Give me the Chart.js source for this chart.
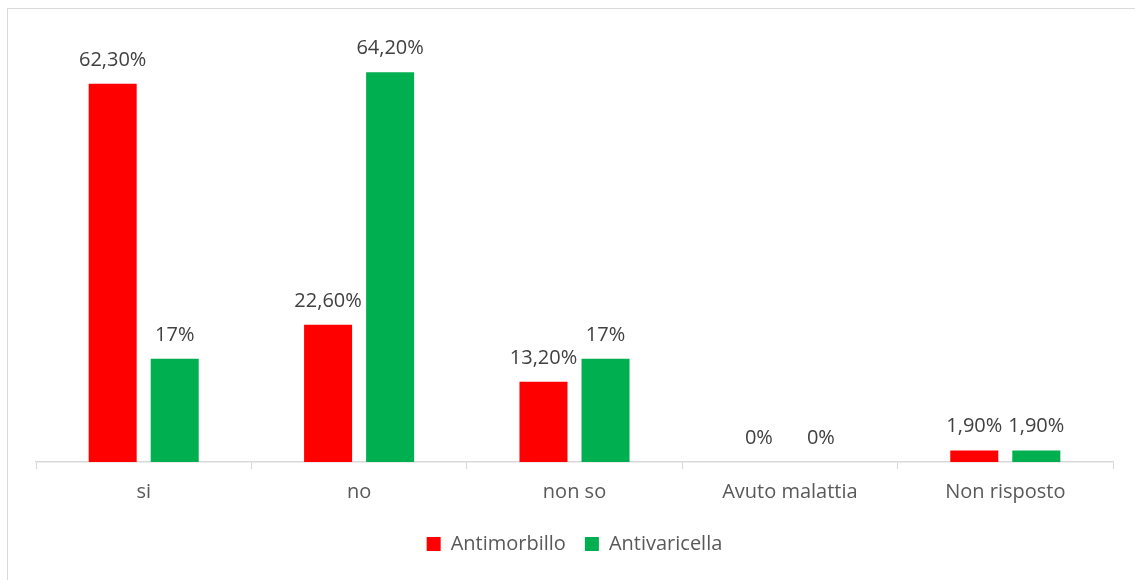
<!DOCTYPE html>
<html>
<head>
<meta charset="utf-8">
<script src="https://cdn.jsdelivr.net/npm/chart.js@4/dist/chart.umd.min.js"></script>
<style>
  html, body { margin: 0; padding: 0; background: #fff; }
  #wrap { position: relative; width: 1135px; height: 580px; overflow: hidden; }
  #frame { position: absolute; left: 7px; top: 8px; width: 1200px; height: 700px;
           border-left: 1.5px solid #d9d9d9; border-top: 1.5px solid #d9d9d9; box-sizing: border-box; }
  canvas { position: absolute; left: 0; top: 0; }
</style>
</head>
<body>
<div id="wrap">
  <div id="frame"></div>
  <canvas id="c" width="1135" height="580"></canvas>
</div>
<script>
const categories = ['si', 'no', 'non so', 'Avuto malattia', 'Non risposto'];
const antimorbillo = [62.3, 22.6, 13.2, 0, 1.9];
const antivaricella = [17, 64.2, 17, 0, 1.9];
const labelsMorbillo = ['62,30%', '22,60%', '13,20%', '0%', '1,90%'];
const labelsVaricella = ['17%', '64,20%', '17%', '0%', '1,90%'];

const FONT = "'Open Sans', 'Liberation Sans', sans-serif";

// Writes the percentage above each bar
const valueLabels = {
  id: 'valueLabels',
  afterDatasetsDraw(chart) {
    const ctx = chart.ctx;
    ctx.save();
    ctx.font = '20px ' + FONT;
    ctx.fillStyle = '#404040';
    ctx.textAlign = 'center';
    ctx.textBaseline = 'alphabetic';
    chart.data.datasets.forEach((ds, i) => {
      const meta = chart.getDatasetMeta(i);
      meta.data.forEach((bar, j) => {
        ctx.fillText(ds.valueLabels[j], bar.x, bar.y - 18);
      });
    });
    ctx.restore();
  }
};

new Chart(document.getElementById('c'), {
  type: 'bar',
  data: {
    labels: categories,
    datasets: [
      { label: 'Antimorbillo', data: antimorbillo, valueLabels: labelsMorbillo,
        backgroundColor: '#ff0000', barPercentage: 0.774, categoryPercentage: 0.576 },
      { label: 'Antivaricella', data: antivaricella, valueLabels: labelsVaricella,
        backgroundColor: '#00b050', barPercentage: 0.774, categoryPercentage: 0.576 }
    ]
  },
  options: {
    responsive: false,
    animation: false,
    layout: { padding: { left: 36, right: 22, top: 37, bottom: 16 } },
    plugins: {
      legend: {
        position: 'bottom',
        labels: { boxWidth: 14, boxHeight: 14, padding: 19, color: '#595959',
                  font: { family: FONT, size: 20 } }
      },
      tooltip: { enabled: false }
    },
    scales: {
      y: { display: false, min: 0, max: 70 },
      x: {
        grid: { offset: true, drawOnChartArea: false, drawTicks: true, tickLength: 7, color: '#d9d9d9' },
        border: { color: '#d9d9d9', width: 1.5 },
        ticks: { color: '#595959', padding: 11, font: { family: FONT, size: 20 } }
      }
    }
  },
  plugins: [valueLabels]
});
</script>
</body>
</html>
